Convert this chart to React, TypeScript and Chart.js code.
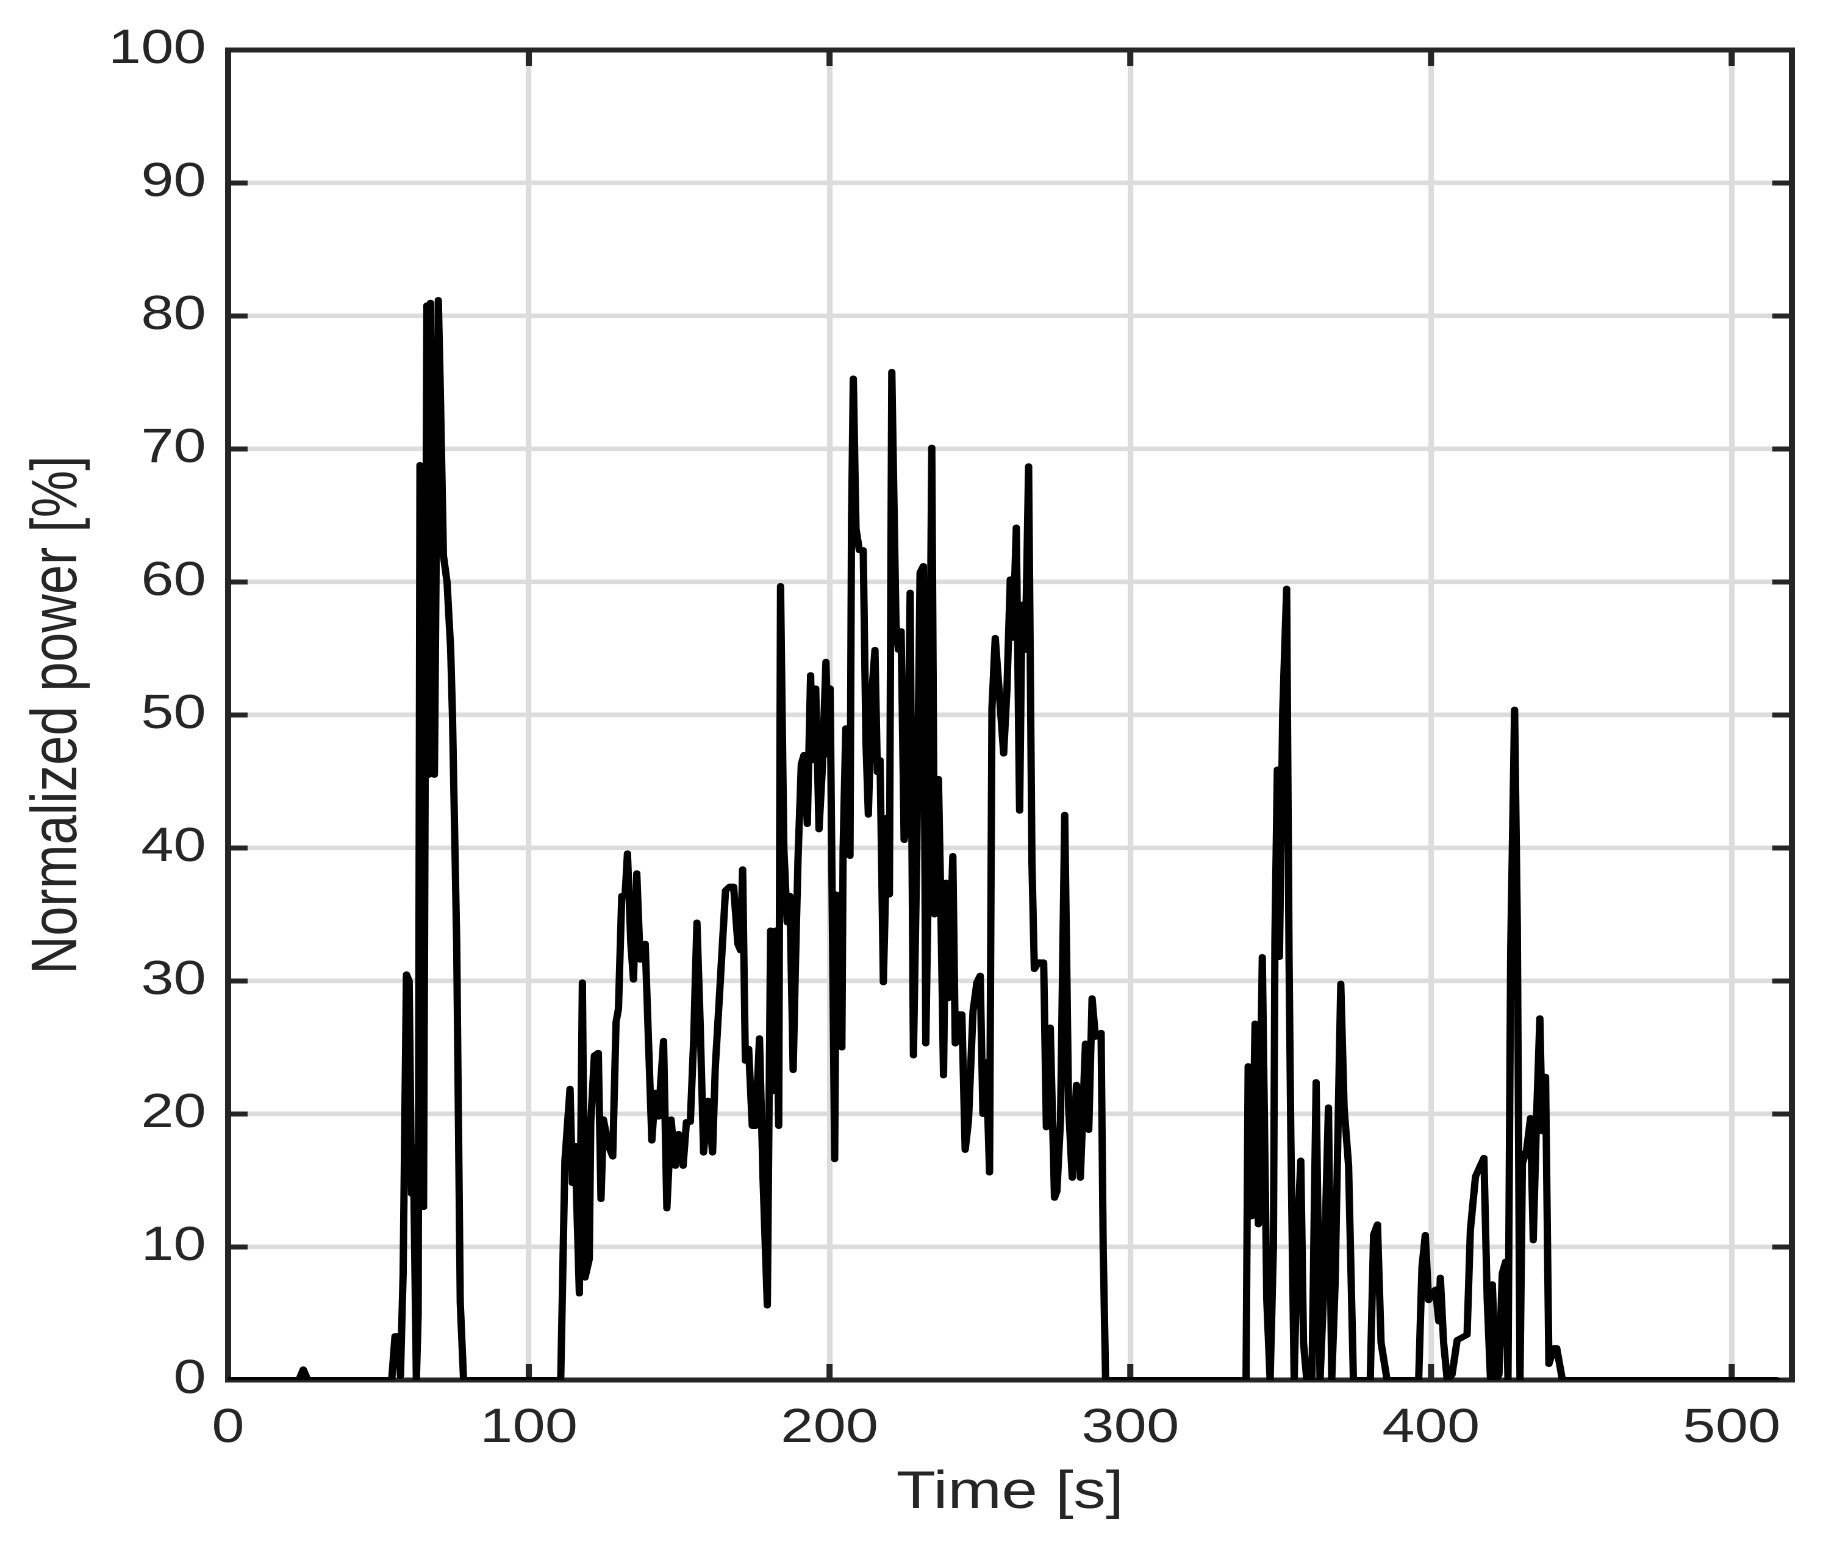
import { useEffect, useRef } from 'react';
import Chart from 'chart.js/auto';

// drive cycle, normalized power vs time (one array pair per segment)
const idleStartT = [0, 23.5, 25, 26.5, 54.4];
const idleStartP = [0, 0, 0.8, 0, 0];

const burst1T = [55.5, 56.6, 57.3, 58.2, 59.3, 60.2, 61.0, 61.6, 62.6, 63.2, 63.8, 65.0, 66.1, 66.8, 67.3, 67.9, 68.6, 69.9, 70.6, 71.6, 72.8, 74.0, 74.6, 76.0, 77.2, 78.3];
const burst1P = [3.3, 3.3, 0.3, 8, 30.5, 30, 14, 17.5, 0, 5, 68.8, 13, 80.8, 45.5, 81, 51, 45.5, 81.2, 74, 62, 60, 55, 50, 33, 5.8, 0];

const idle2T = [79, 110.6];
const idle2P = [0, 0];

const burst2T = [
  112, 113.7, 114.5, 115.4, 116.8, 117.8, 118.7, 120.1, 120.6, 121.8, 123.1, 124, 124.8, 126.5, 127.9, 129,
  129.8, 130.9, 132, 132.8, 133.9, 134.8, 135.9, 137, 138.7, 140.9, 142, 143.1, 144.8, 145.9, 147.3, 148.7,
  149.8, 151.3, 152.4, 153.7, 154.8, 155.9, 157, 158.1, 159.6, 161.1, 162, 163.7, 165.4, 166.8, 168.1, 169.5,
  170.4, 171.1, 172, 173.1, 174.3, 175.4, 176.7, 177.9, 179.3, 180.4, 181.1, 182, 183.1, 183.7, 184.8, 185.9,
  186.8, 187.9, 188.7, 189.5, 190.6, 191.5, 192.6, 193.7, 194.3, 195.4, 196.5, 197.6, 198.8, 199.6, 200.2,
  201.7, 202.3, 203.2, 204.1, 204.5, 205.4, 206.8, 207.3, 207.9, 208.8, 209.9, 211.2, 212.1, 212.9, 214,
  215.1, 215.9, 216.8, 217.9, 219.2, 219.9, 220.7, 222.1, 222.9, 223.8, 224.8, 225.9, 226.8, 227.9, 229,
  230.1, 231.2, 232, 232.9, 234, 234.9, 235.6, 236.2, 236.8, 237.9, 238.7, 239.5, 241, 241.8, 242.9, 244,
  245.1, 246.2, 247.7, 249, 250.1, 251, 252.1, 253.2, 254, 255.1, 256.2, 257.9, 259, 260.1, 261, 262.1,
  263.2, 264, 265.1, 266.2, 267.3, 268.1, 269.5, 271.2, 272.1, 273.4, 274.8, 275.6, 276.8, 278.2, 279.5,
  280.7, 282.1, 283.4, 285.1, 286.2, 287.3, 288.4, 290.3, 291, 291.8,
];
const burst2P = [
  16.5, 21.9, 14.8, 17.6, 6.5, 29.9, 7.7, 9.1, 19.4, 24.4, 24.6, 13.6, 19.6, 17.6, 16.8, 26.9,
  27.9, 36.4, 36.4, 39.6, 32.9, 30.1, 38.1, 31.6, 32.8, 18, 21.6, 19.8, 25.5, 12.9, 19.6, 16.1,
  18.5, 16.1, 19.4, 19.4, 25.5, 34.4, 26.6, 17.1, 21, 17.1, 23.5, 30.1, 36.8, 37.1, 37.1, 32.8,
  32.3, 38.4, 24, 24.9, 19.1, 19.1, 25.7, 15, 5.6, 33.8, 21.7, 33.8, 19.1, 59.7, 40, 34.4,
  36.4, 23.3, 31.6, 39.1, 46.3, 47, 41.8, 53, 46.6, 52, 41.4, 46, 54, 47, 52,
  16.6, 36.5, 25.3, 25, 39.8, 49, 39.4, 64.5, 75.3, 64, 62.4, 62.4, 48, 42.5, 51.5,
  54.9, 45.7, 46.6, 29.9, 42.3, 36.5, 75.8, 56.8, 54.9, 56.3, 40.6, 42.3, 59.2, 24.4, 39.4,
  60.7, 61.2, 25.3, 38.4, 70.1, 35, 41.3, 45.2, 38.4, 22.9, 37.4, 28.7, 39.4, 25.3, 27.5, 27.5,
  17.3, 19.5, 27.7, 29.9, 30.4, 20, 23.9, 15.6, 50.5, 55.8, 52.4, 47.1, 52, 60.2, 55.8, 64.1,
  42.8, 58.3, 54.9, 68.7, 38.9, 30.9, 31.4, 31.4, 19, 26.5, 13.7, 14.2, 19.5, 42.5, 20.5,
  15.2, 22.2, 15.2, 25.3, 18.8, 28.7, 25.8, 26.1, 9.8, 0,
];

const idle3T = [338.5];
const idle3P = [0];

const burst3T = [
  339.2, 340.4, 341.5, 342.6, 343.9, 345.4, 346.5, 347.6, 348.1, 348.9, 349.6, 350.7, 352, 352.8, 353.4,
  354.5, 355.6, 356.7, 357.6, 358.7, 360.4, 361.8, 363.1, 364.2, 365.9, 367, 368.1, 370, 371.1, 372.6,
  374.2, 379.8, 380.9, 382.2, 383.4, 385.4, 395.9, 397, 398.1, 399.2, 401.5, 402.6, 403.1, 404.2, 405.4,
  407, 408.7, 412, 413.1, 414.8, 417.6, 418.7, 419.8, 420.4, 421.5, 422.6, 423.7, 424.8, 425.6, 426.5,
  427.8, 428.7, 429.6, 430.4, 431.8, 433.1, 434, 435.1, 436.2, 437, 438.1, 439.2, 440.9, 441.8, 443.7,
];
const burst3P = [
  23.6, 12.3, 26.8, 11.7, 31.8, 6, 0, 10, 33, 45.9, 31.8, 50.3, 59.5, 31.8, 18.1,
  0, 10.9, 16.5, 2.8, 0, 0, 22.4, 0, 6, 20.5, 0, 7.2, 29.8, 20.5, 16.1,
  0, 0, 10.9, 11.7, 2.8, 0, 0, 8.5, 10.9, 6, 6.8, 4.4, 7.7, 2.8, 0,
  0.4, 3, 3.4, 11.3, 15.3, 16.7, 6, 0, 7.2, 0, 0.4, 8, 8.9, 0, 32.2,
  50.4, 34.2, 0, 16.3, 17.3, 19.7, 10.5, 19.7, 27.2, 18.7, 22.8, 1.2, 2.4, 2.4, 0,
];

const idleEndT = [515];
const idleEndP = [0];

const timeS = [...idleStartT, ...burst1T, ...idle2T, ...burst2T, ...idle3T, ...burst3T, ...idleEndT];
const powerPct = [...idleStartP, ...burst1P, ...idle2P, ...burst2P, ...idle3P, ...burst3P, ...idleEndP];

const xTicks = [0, 100, 200, 300, 400, 500];
const yTicks = [0, 10, 20, 30, 40, 50, 60, 70, 80, 90, 100];

// the reference is stretched sideways, so draw narrow and scale the box
const W = 1497;
const H = 1543;
const STRETCH = 1826 / W;

const INK = '#262626';
const FONT = "'Liberation Sans', Arial, Helvetica, sans-serif";
const TICK_LEN = 16;

// MATLAB style box with inward ticks on all four sides
const axesBox = {
  id: 'axesBox',
  beforeDatasetsDraw(chart: any) {
    const { ctx, chartArea: a, scales } = chart;
    ctx.save();
    ctx.strokeStyle = INK;
    ctx.lineWidth = 5;
    ctx.lineCap = 'butt';
    ctx.beginPath();
    for (const v of xTicks) {
      const px = scales.x.getPixelForValue(v);
      ctx.moveTo(px, a.bottom);
      ctx.lineTo(px, a.bottom - TICK_LEN);
      ctx.moveTo(px, a.top);
      ctx.lineTo(px, a.top + TICK_LEN);
    }
    for (const v of yTicks) {
      const py = scales.y.getPixelForValue(v);
      ctx.moveTo(a.left, py);
      ctx.lineTo(a.left + TICK_LEN, py);
      ctx.moveTo(a.right, py);
      ctx.lineTo(a.right - TICK_LEN, py);
    }
    ctx.stroke();
    ctx.lineJoin = 'miter';
    ctx.strokeRect(a.left, a.top, a.right - a.left, a.bottom - a.top);
    ctx.restore();
  },
};

const PowerChart = () => {
  const canvasRef = useRef<HTMLCanvasElement>(null);

  useEffect(() => {
    if (!canvasRef.current) return;
    const ctx = canvasRef.current.getContext('2d');
    if (!ctx) return;

    const chart = new Chart(ctx, {
      type: 'scatter',
      data: {
        datasets: [
          {
            data: timeS.map((t, i) => ({ x: t, y: powerPct[i] })),
            showLine: true,
            borderColor: '#000000',
            borderWidth: 6,
            borderJoinStyle: 'round',
            borderCapStyle: 'round',
            pointRadius: 0,
            tension: 0,
          },
        ],
      },
      options: {
        animation: false,
        responsive: false,
        maintainAspectRatio: false,
        devicePixelRatio: 2,
        layout: { padding: { top: 50, right: 28, bottom: 0, left: 0 } },
        plugins: { legend: { display: false }, tooltip: { enabled: false } },
        scales: {
          x: {
            type: 'linear',
            min: 0,
            max: 520,
            afterBuildTicks: (s: any) => {
              s.ticks = xTicks.map((v) => ({ value: v }));
            },
            afterFit: (s: any) => {
              s.height = 163;
            },
            border: { display: false },
            grid: { color: '#dcdcdc', lineWidth: 4.6, drawTicks: false },
            ticks: { color: INK, padding: 20, font: { family: FONT, size: 48 } },
            title: {
              display: true,
              text: 'Time [s]',
              color: INK,
              padding: { top: 0, bottom: 18 },
              font: { family: FONT, size: 53 },
            },
          },
          y: {
            min: 0,
            max: 100,
            afterBuildTicks: (s: any) => {
              s.ticks = yTicks.map((v) => ({ value: v }));
            },
            afterFit: (s: any) => {
              s.width = 187;
            },
            border: { display: false },
            grid: { color: '#dcdcdc', lineWidth: 4.6, drawTicks: false },
            ticks: { color: INK, padding: 18, font: { family: FONT, size: 48 } },
            title: {
              display: true,
              text: 'Normalized power [%]',
              color: INK,
              padding: { top: 16, bottom: 0 },
              font: { family: FONT, size: 53 },
            },
          },
        },
      },
      plugins: [axesBox],
    });

    return () => {
      chart.destroy();
    };
  }, []);

  return (
    <canvas
      ref={canvasRef}
      width={W}
      height={H}
      style={{ display: 'block', width: W, height: H }}
    />
  );
};

export default function App() {
  return (
    <div
      style={{
        position: 'fixed',
        left: 0,
        top: 0,
        width: 1826,
        height: H,
        overflow: 'hidden',
        background: '#ffffff',
      }}
    >
      <div style={{ width: W, height: H, transform: `scaleX(${STRETCH})`, transformOrigin: '0 0' }}>
        <PowerChart />
      </div>
    </div>
  );
}
